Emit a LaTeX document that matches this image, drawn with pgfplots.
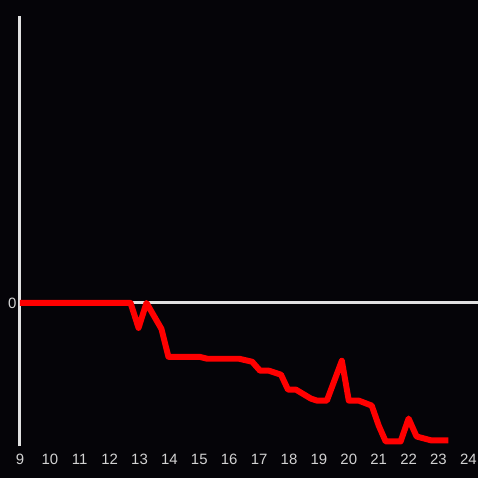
\documentclass[border=0pt]{standalone}
\usepackage{fontspec}
\setmainfont{Liberation Sans}
\usepackage{pgfplots}
\pgfplotsset{compat=1.18}
\definecolor{bg}{RGB}{5,4,8}
\definecolor{ax}{RGB}{225,225,225}
\definecolor{tl}{RGB}{210,210,210}
\begin{document}
\begin{tikzpicture}
\fill[bg] (0,0) rectangle (480bp,480bp);
\begin{axis}[at={(20bp,32bp)}, anchor=south west, scale only axis,
  width=460bp, height=432bp,
  xmin=9, xmax=24.3333, ymin=-144, ymax=288,
  axis lines*=left, axis line style={draw=none},
  xtick={9,10,...,24}, ytick={0},
  major tick length=0pt,
  tick label style={font=\fontsize{15bp}{17bp}\selectfont, text=tl},
  /pgf/number format/assume math mode=true,
  xticklabel style={yshift=-4bp},
  yticklabel style={xshift=0bp},
  clip=false]
\draw[ax, line width=3bp] (axis cs:9,-144) -- (axis cs:9,288);
\draw[ax, line width=3bp] (axis cs:9,0) -- (axis cs:24.3333,0);
\addplot[red, line width=6bp, line join=round, mark=none] coordinates {
(9,0) (12.7,0) (12.967,-25) (13.233,0) (13.733,-26) (13.967,-54)
(15.0,-54) (15.267,-56) (16.333,-56) (16.767,-59) (17.033,-68) (17.333,-68)
(17.733,-72) (17.967,-87) (18.233,-87) (18.733,-96) (18.933,-98) (19.267,-98)
(19.767,-58) (20.0,-98) (20.333,-98) (20.767,-103) (21.0,-123) (21.233,-139)
(21.733,-139) (22.0,-116) (22.267,-134) (22.767,-138) (23.333,-138)
};
\end{axis}
\path[use as bounding box] (0,0) rectangle (480bp,480bp);
\end{tikzpicture}
\end{document}
